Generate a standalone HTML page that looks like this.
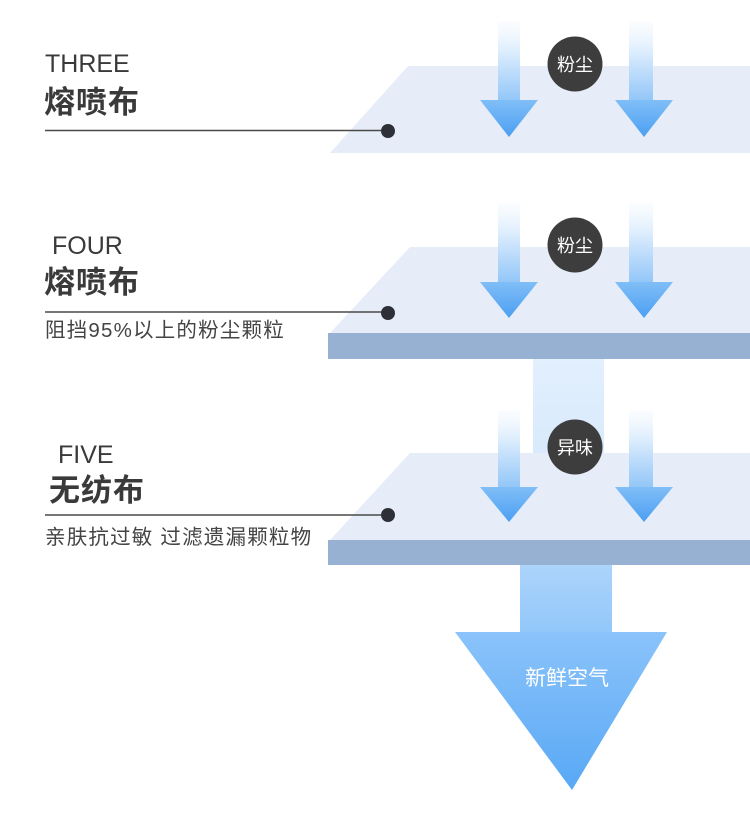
<!DOCTYPE html>
<html><head><meta charset="utf-8">
<style>
html,body{margin:0;padding:0;background:#fff;}
body{width:750px;height:824px;position:relative;overflow:hidden;font-family:"Liberation Sans","Noto Sans CJK SC",sans-serif;}
svg{position:absolute;left:0;top:0;}
.t{position:absolute;white-space:nowrap;}
.en{font-size:25px;line-height:25px;color:#3a3a3a;}
.cn{font-size:31px;line-height:31px;font-weight:bold;color:#3a3a3a;letter-spacing:1px;}
.sub{font-size:20.5px;line-height:20px;color:#444;letter-spacing:1.2px;}
</style></head><body>
<svg width="750" height="824" viewBox="0 0 750 824">
<defs>
<linearGradient id="sh1" x1="0" y1="0" x2="0" y2="1">
<stop offset="0" stop-color="#eaf4fe" stop-opacity="0.2"/>
<stop offset="0.5" stop-color="#cde5fc"/>
<stop offset="1" stop-color="#92c6f8"/>
</linearGradient>
<linearGradient id="hd" x1="0" y1="0" x2="0" y2="1">
<stop offset="0" stop-color="#80bef7"/>
<stop offset="1" stop-color="#4c9ff2"/>
</linearGradient>
<linearGradient id="ws" x1="0" y1="0" x2="0" y2="1">
<stop offset="0" stop-color="#e2effd"/>
<stop offset="1" stop-color="#d8eafc"/>
</linearGradient>
<linearGradient id="bs" x1="0" y1="0" x2="0" y2="1">
<stop offset="0" stop-color="#acd4fb"/>
<stop offset="1" stop-color="#92c7fa"/>
</linearGradient>
<linearGradient id="bh" x1="0" y1="0" x2="0" y2="1">
<stop offset="0" stop-color="#8bc3fa"/>
<stop offset="1" stop-color="#58a8f5"/>
</linearGradient>
</defs>

<polygon points="408,66 750,66 750,153 330,153" fill="#e6edf9"/>
<polygon points="410,247 750,247 750,333 330,333" fill="#e6edf9"/>
<rect x="328" y="333" width="422" height="26" fill="#97b1d3"/>
<rect x="533" y="359" width="71" height="95" fill="url(#ws)"/>
<polygon points="410,453 750,453 750,540 330,540" fill="#e6edf9"/>
<rect x="328" y="540" width="422" height="25" fill="#97b1d3"/>

<rect x="520" y="565" width="92" height="68" fill="url(#bs)"/>
<polygon points="455,632 667,632 572,790" fill="url(#bh)"/>

<rect x="498" y="22" width="22" height="79" fill="url(#sh1)"/>
<polygon points="480,100 538,100 509,137" fill="url(#hd)"/>
<rect x="629" y="22" width="24" height="79" fill="url(#sh1)"/>
<polygon points="615,100 673,100 644,137" fill="url(#hd)"/>
<rect x="498" y="203" width="22" height="80" fill="url(#sh1)"/>
<polygon points="480,282 538,282 509,318" fill="url(#hd)"/>
<rect x="629" y="203" width="24" height="80" fill="url(#sh1)"/>
<polygon points="615,282 673,282 644,318" fill="url(#hd)"/>
<rect x="498" y="410" width="22" height="78" fill="url(#sh1)"/>
<polygon points="480,487 538,487 509,522" fill="url(#hd)"/>
<rect x="629" y="410" width="24" height="78" fill="url(#sh1)"/>
<polygon points="615,487 673,487 644,522" fill="url(#hd)"/>

<circle cx="575" cy="64" r="27.5" fill="#3d3d3d"/>
<circle cx="575" cy="245" r="27.5" fill="#3d3d3d"/>
<circle cx="575" cy="447" r="27.5" fill="#3d3d3d"/>
<text x="575" y="71" text-anchor="middle" font-size="18" fill="#fff" font-family="Liberation Sans, Noto Sans CJK SC, sans-serif">粉尘</text>
<text x="575" y="252" text-anchor="middle" font-size="18" fill="#fff" font-family="Liberation Sans, Noto Sans CJK SC, sans-serif">粉尘</text>
<text x="575" y="454" text-anchor="middle" font-size="18" fill="#fff" font-family="Liberation Sans, Noto Sans CJK SC, sans-serif">异味</text>

<text x="567" y="685" text-anchor="middle" font-size="21" fill="#fff" font-family="Liberation Sans, Noto Sans CJK SC, sans-serif">新鲜空气</text>

<line x1="45" y1="130.5" x2="388" y2="130.5" stroke="#4a4a4a" stroke-width="1.5"/>
<line x1="45" y1="312" x2="388" y2="312" stroke="#4a4a4a" stroke-width="1.5"/>
<line x1="45" y1="515" x2="388" y2="515" stroke="#4a4a4a" stroke-width="1.5"/>
<circle cx="388" cy="131" r="7" fill="#2e3038"/>
<circle cx="388" cy="313" r="7" fill="#2e3038"/>
<circle cx="388" cy="515" r="7" fill="#2e3038"/>
</svg>

<div class="t en" style="left:45px;top:52px;">THREE</div>
<div class="t cn" style="left:44px;top:87px;">熔喷布</div>

<div class="t en" style="left:52px;top:234px;">FOUR</div>
<div class="t cn" style="left:44px;top:267px;">熔喷布</div>
<div class="t sub" style="left:45px;top:321px;">阻挡95%以上的粉尘颗粒</div>

<div class="t en" style="left:58px;top:443px;">FIVE</div>
<div class="t cn" style="left:49px;top:475px;">无纺布</div>
<div class="t sub" style="left:45px;top:528px;">亲肤抗过敏 过滤遗漏颗粒物</div>
</body></html>
